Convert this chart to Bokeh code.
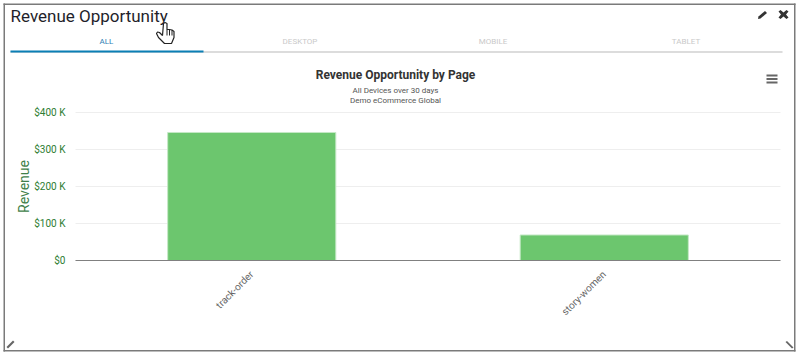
from bokeh.plotting import figure
from bokeh.models import (FixedTicker, Label, BoxAnnotation, PolyAnnotation, Range1d)
from bokeh.embed import file_html
from bokeh.resources import INLINE
import math

pages = ["track-order", "story-women"]
page_pos = [0.5, 1.5]
revenue = [346000, 69000]
y_ticks = [0, 100000, 200000, 300000, 400000]
y_tick_labels = ["$0", "$100 K", "$200 K", "$300 K", "$400 K"]
tabs = ["ALL", "DESKTOP", "MOBILE", "TABLET"]
card_title = "Revenue Opportunity"
chart_title = "Revenue Opportunity by Page"
subtitles = ["All Devices over 30 days", "Demo eCommerce Global"]
axis_title = "Revenue"

W, H = 798, 353
# plot area inside the card, in page pixels
L, R, T, B = 75, 780, 112, 260
px_per_cat = (R - L) / 2
px_per_val = (B - T) / 400000

p = figure(width=W, height=H,
           x_range=Range1d(-L / px_per_cat, 2 + (W - R) / px_per_cat),
           y_range=Range1d(-(H - B) / px_per_val, B / px_per_val),
           output_backend="svg", toolbar_location=None,
           min_border_left=0, min_border_right=0, min_border_top=0, min_border_bottom=0)
p.outline_line_color = None
p.background_fill_color = "white"
p.border_fill_color = "white"
p.xgrid.grid_line_color = None
p.ygrid.grid_line_color = None

p.segment(x0=[0] * len(y_ticks), x1=[2] * len(y_ticks), y0=y_ticks, y1=y_ticks, line_color="#eeeeee", line_width=1)
p.vbar(x=page_pos, top=revenue, width=0.477, fill_color="#6cc66e", line_color="#c5e8c6", line_width=1)

ax = p.yaxis[0]
ax.fixed_location = 0
ax.ticker = FixedTicker(ticks=y_ticks)
ax.major_label_overrides = dict(zip(y_ticks, y_tick_labels))
ax.major_label_text_font = "Roboto"
ax.major_label_text_font_size = "10px"
ax.major_label_text_color = "#2e7d32"
ax.major_tick_line_color = None
ax.major_tick_out = 0
ax.major_tick_in = 0
ax.minor_tick_line_color = None
ax.axis_line_color = None
ax.major_label_standoff = 10

xa = p.xaxis[0]
xa.fixed_location = 0
xa.bounds = (0, 2)
xa.ticker = FixedTicker(ticks=page_pos)
xa.major_label_overrides = dict(zip(page_pos, pages))
xa.major_label_orientation = math.pi / 4
xa.major_label_text_font = "Roboto"
xa.major_label_text_font_size = "10px"
xa.major_label_text_color = "#666666"
xa.major_tick_line_color = None
xa.major_tick_out = 0
xa.major_tick_in = 0
xa.minor_tick_line_color = None
xa.axis_line_color = "#808080"
xa.axis_line_width = 1
xa.major_label_standoff = 12


def text(x, y, t, size, color, align="left", style="normal", baseline="middle", angle=0):
    p.add_layout(Label(x=x, y=H - y, x_units="screen", y_units="screen", text=t, text_font="Roboto",
                       text_font_size=f"{size}px", text_color=color, text_align=align,
                       text_baseline=baseline, text_font_style=style, angle=angle))


def box(l, r, t, b, color):
    p.add_layout(BoxAnnotation(left=l, right=r, top=H - t, bottom=H - b, left_units="screen", right_units="screen",
                               top_units="screen", bottom_units="screen", fill_color=color, fill_alpha=1,
                               line_color=None))


def poly(xs, ys, fill, line=None, lw=1):
    p.add_layout(PolyAnnotation(xs=xs, ys=[H - v for v in ys], xs_units="screen", ys_units="screen", fill_color=fill,
                                fill_alpha=1, line_color=line, line_alpha=1, line_width=lw))


# card frame
box(3, 795, 3, 4.5, "#7a7a7a")
box(3, 795, 349.5, 351, "#7a7a7a")
box(3, 4.5, 3, 351, "#7a7a7a")
box(793.5, 795, 3, 351, "#7a7a7a")

# header
text(10, 15.5, card_title, 17, "#1f1f2b")

# tabs
tab_cx = [106, 299.5, 492.5, 685.5]
tab_col = ["#2f7fb5", "#c9c9c9", "#c9c9c9", "#c9c9c9"]
for c, t, col in zip(tab_cx, tabs, tab_col):
    text(c, 41, t, 8, col, align="center")
box(10, 782, 51, 52, "#b9b9b9")
box(10, 203, 50, 52, "#0b7fb5")

# chart titles
text(395, 74, chart_title, 12, "#333333", align="center", style="bold")
text(395, 89.5, subtitles[0], 8, "#555555", align="center")
text(395, 99.5, subtitles[1], 8, "#555555", align="center")

# axis title
text(23, 186, axis_title, 14, "#3f7f4a", align="center", angle=math.pi / 2)

# hamburger
for y in (74, 77.5, 81):
    box(766, 777, y, y + 2, "#666666")

# pencil
poly([758, 764.5, 766.5, 760, 757.5], [16, 10.5, 12.5, 18, 18.5], "#333333")
# close
poly([778, 780, 783, 786, 788, 785.5, 788, 786, 783, 780, 778, 780.5],
     [11, 9.5, 12, 9.5, 11, 14, 17, 18.5, 16, 18.5, 17, 14], "#333333")

# resize handles
poly([6, 7.5, 14, 12.5], [346.5, 348, 341.5, 340], "#666666")
poly([785, 786.5, 793, 791.5], [341.5, 340.5, 347, 348], "#666666")

# hand cursor
poly([163, 164.5, 166.5, 166.5, 169, 171.5, 173.5, 173.5, 171, 164, 158, 156, 157, 159, 162],
     [23, 22, 23, 29, 29, 29.5, 31, 37, 43, 43, 37, 33, 31.5, 32, 35],
     "#ffffff", "#222222", 1.2)
poly([169, 169], [29, 35], None, "#222222", 1)
poly([171.5, 171.5], [29.5, 35], None, "#222222", 1)
poly([166.5, 166.5], [29, 35], None, "#222222", 1)

open("out.html", "w").write(file_html(p, INLINE))
